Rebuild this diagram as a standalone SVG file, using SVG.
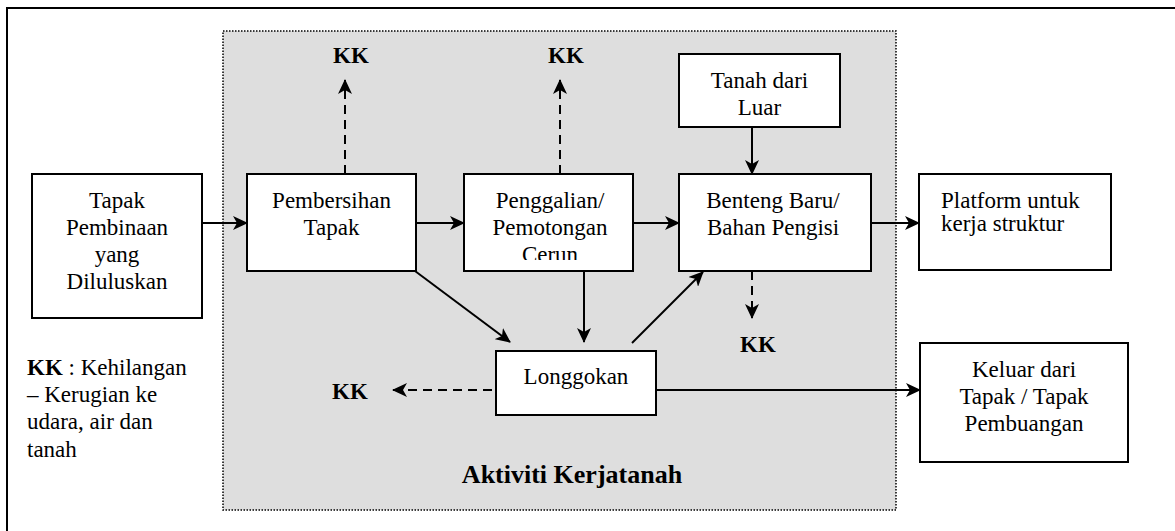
<svg xmlns="http://www.w3.org/2000/svg" width="1175" height="531" viewBox="0 0 1175 531">
<style>
.box{fill:#fff;stroke:#000;stroke-width:2}
text{font-family:'Liberation Serif','Tinos','DejaVu Serif','Times New Roman',serif;font-size:23px;fill:#000}
.c{text-anchor:middle}
.b{font-weight:bold}
.big{font-size:26px}
.ln{stroke:#000;stroke-width:2;fill:none}
.ds{stroke-dasharray:9 6}
</style>
<defs>
<marker id="ah" viewBox="0 0 15 14" refX="14" refY="7" markerWidth="15" markerHeight="14" markerUnits="userSpaceOnUse" orient="auto">
<path d="M0,0 L15,7 L0,14 L4,7 z" fill="#000"/>
</marker>
<clipPath id="clipPg"><rect x="464" y="174" width="169" height="86"/></clipPath>
</defs>
<rect width="1175" height="531" fill="#fff"/>
<rect x="7" y="8" width="1200" height="600" fill="none" stroke="#000" stroke-width="2"/>
<g id="activity-area">
<rect x="223" y="31" width="673" height="479" fill="#dedede" stroke="#000" stroke-width="1.5" stroke-dasharray="1.5 1.5"/>
<text class="b c big" x="572" y="483" font-family="Liberation Serif, serif">Aktiviti Kerjatanah</text>
</g>
<g id="connectors">
<line class="ln" x1="202" y1="223" x2="247" y2="223" marker-end="url(#ah)"/>
<line class="ln" x1="416" y1="223" x2="464" y2="223" marker-end="url(#ah)"/>
<line class="ln" x1="633" y1="223" x2="679" y2="223" marker-end="url(#ah)"/>
<line class="ln" x1="871" y1="223" x2="919" y2="223" marker-end="url(#ah)"/>
<line class="ln" x1="752" y1="127" x2="752" y2="174" marker-end="url(#ah)"/>
<line class="ln ds" x1="345" y1="174" x2="345" y2="80" marker-end="url(#ah)"/>
<line class="ln ds" x1="560" y1="174" x2="560" y2="80" marker-end="url(#ah)"/>
<line class="ln ds" x1="752" y1="271" x2="752" y2="318" marker-end="url(#ah)"/>
<line class="ln ds" x1="492" y1="390" x2="393" y2="390" marker-end="url(#ah)"/>
<line class="ln" x1="415" y1="271" x2="510" y2="342" marker-end="url(#ah)"/>
<line class="ln" x1="584" y1="271" x2="584" y2="342" marker-end="url(#ah)"/>
<line class="ln" x1="632" y1="343" x2="703" y2="272" marker-end="url(#ah)"/>
<line class="ln" x1="656" y1="390" x2="920" y2="390" marker-end="url(#ah)"/>
</g>
<g id="tapak-pembinaan">
<rect class="box" x="32" y="174" width="170" height="144"/>
<text class="c" x="117" y="208">Tapak</text>
<text class="c" x="117" y="235">Pembinaan</text>
<text class="c" x="117" y="262">yang</text>
<text class="c" x="117" y="289">Diluluskan</text>
</g>
<g id="pembersihan">
<rect class="box" x="247" y="174" width="169" height="97"/>
<text class="c" x="331.5" y="208">Pembersihan</text>
<text class="c" x="331.5" y="235">Tapak</text>
</g>
<g id="penggalian">
<rect class="box" x="464" y="174" width="169" height="97"/>
<g clip-path="url(#clipPg)">
<text class="c" x="550" y="208">Penggalian/</text>
<text class="c" x="550" y="235">Pemotongan</text>
<text class="c" x="550" y="262">Cerun</text>
</g>
</g>
<g id="tanah-luar">
<rect class="box" x="679" y="54" width="161" height="73"/>
<text class="c" x="759.5" y="88">Tanah dari</text>
<text class="c" x="759.5" y="115">Luar</text>
</g>
<g id="benteng">
<rect class="box" x="679" y="174" width="192" height="97"/>
<text class="c" x="773" y="208">Benteng Baru/</text>
<text class="c" x="773" y="235">Bahan Pengisi</text>
</g>
<g id="platform">
<rect class="box" x="919" y="174" width="192" height="96"/>
<text x="941" y="208">Platform untuk</text>
<text x="941" y="231">kerja struktur</text>
</g>
<g id="longgokan">
<rect class="box" x="496" y="351" width="160" height="64"/>
<text class="c" x="576" y="384">Longgokan</text>
</g>
<g id="keluar">
<rect class="box" x="920" y="343" width="208" height="119"/>
<text class="c" x="1024" y="377">Keluar dari</text>
<text class="c" x="1024" y="404">Tapak / Tapak</text>
<text class="c" x="1024" y="431">Pembuangan</text>
</g>
<g id="kk-labels">
<text class="b c" x="351" y="63">KK</text>
<text class="b c" x="566" y="63">KK</text>
<text class="b c" x="758" y="352">KK</text>
<text class="b c" x="350" y="399">KK</text>
</g>
<g id="legend">
<text x="27" y="375"><tspan class="b">KK</tspan> : Kehilangan</text>
<text x="27" y="402">– Kerugian ke</text>
<text x="27" y="429">udara, air dan</text>
<text x="27" y="457">tanah</text>
</g>
</svg>
